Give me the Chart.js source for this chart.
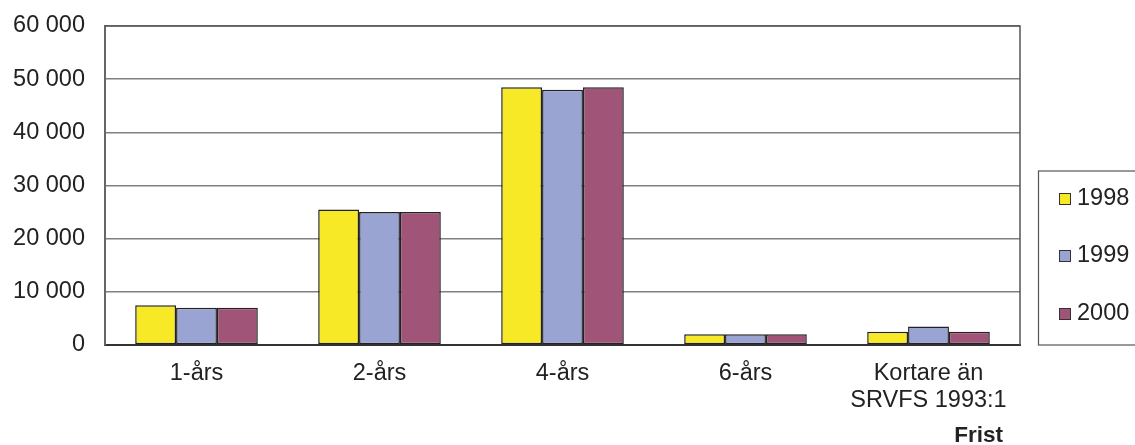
<!DOCTYPE html>
<html>
<head>
<meta charset="utf-8">
<script src="https://cdn.jsdelivr.net/npm/chart.js@4"></script>
<style>
  html,body{margin:0;padding:0;background:#fff;}
  #wrap{width:1135px;height:445px;position:relative;}
</style>
</head>
<body>
<div id="wrap"><canvas id="chart" width="1135" height="445"></canvas></div>
<script>
// categories and values
const categories = ['1-års', '2-års', '4-års', '6-års', ['Kortare än', 'SRVFS 1993:1']];
const years = ['1998', '1999', '2000'];
const values1998 = [7500, 25500, 48500, 2000, 2500];
const values1999 = [7000, 25000, 48000, 2000, 3500];
const values2000 = [7000, 25000, 48500, 2000, 2500];
const yTicks = [0, 10000, 20000, 30000, 40000, 50000, 60000];
const axisTitle = 'Frist';
const colors = ['#f7e925', '#99a4d2', '#a05478'];

const FONT = 'Liberation Sans, Arial, sans-serif';
const TXT = '#222';
const FS = 23.5;

// box around plot + legend box + axis title drawn by hand
const framePlugin = {
  id: 'frame',
  beforeDatasetsDraw(chart){
    const ctx = chart.ctx, a = chart.chartArea;
    ctx.save();
    ctx.strokeStyle = '#555';
    ctx.lineWidth = 1.5;
    ctx.beginPath();
    ctx.moveTo(a.left, a.top);
    ctx.lineTo(a.right, a.top);
    ctx.lineTo(a.right, a.bottom);
    ctx.stroke();
    ctx.restore();
  },
  afterDraw(chart){
    const ctx = chart.ctx, a = chart.chartArea;
    ctx.save();
    // legend box
    ctx.strokeStyle = '#555';
    ctx.lineWidth = 1.2;
    ctx.strokeRect(1038.5, 171, 110, 174);
    ctx.font = FS + 'px ' + FONT;
    ctx.textBaseline = 'middle';
    const ys = [198, 255, 313];
    chart.data.datasets.forEach((ds, i) => {
      ctx.fillStyle = ds.backgroundColor;
      ctx.fillRect(1059, ys[i] - 5, 11, 11);
      ctx.strokeStyle = '#333';
      ctx.lineWidth = 1;
      ctx.strokeRect(1059.5, ys[i] - 4.5, 11, 11);
      ctx.fillStyle = TXT;
      ctx.fillText(ds.label, 1077, ys[i] + 1);
    });
    // x axis title
    ctx.font = 'bold ' + (FS - 1) + 'px ' + FONT;
    ctx.textAlign = 'right';
    ctx.fillStyle = TXT;
    ctx.fillText(axisTitle, a.right - 17, 436);
    ctx.restore();
  }
};

new Chart(document.getElementById('chart'), {
  type: 'bar',
  data: {
    labels: categories,
    datasets: [
      {label: years[0], data: values1998, backgroundColor: colors[0]},
      {label: years[1], data: values1999, backgroundColor: colors[1]},
      {label: years[2], data: values2000, backgroundColor: colors[2]}
    ].map(d => Object.assign(d, {borderColor: '#222', borderWidth: 1.5, borderSkipped: false}))
  },
  options: {
    responsive: false,
    animation: false,
    layout: {padding: {top: 26, right: 115, left: 0, bottom: 0}},
    datasets: {bar: {categoryPercentage: 0.67, barPercentage: 1}},
    plugins: {legend: {display: false}, tooltip: {enabled: false}},
    scales: {
      x: {
        grid: {display: false, drawTicks: false},
        border: {display: true, color: '#333', width: 2},
        ticks: {
          color: TXT, padding: 15,
          font: {family: FONT, size: FS, lineHeight: 1.15},
          maxRotation: 0, autoSkip: false
        },
        afterFit(s){ s.height = 100; }
      },
      y: {
        min: 0, max: 60000,
        afterBuildTicks(s){ s.ticks = yTicks.map(v => ({value: v})); },
        grid: {color: '#808080', lineWidth: 1.5, drawTicks: false},
        border: {display: true, color: '#666', width: 2},
        ticks: {
          color: TXT, padding: 20,
          font: {family: FONT, size: FS},
          callback: v => String(v).replace(/\B(?=(\d{3})+(?!\d))/g, ' ')
        },
        afterFit(s){ s.width = 105; s.paddingTop = 0; s.paddingBottom = 0; }
      }
    }
  },
  plugins: [framePlugin]
});
</script>
</body>
</html>
